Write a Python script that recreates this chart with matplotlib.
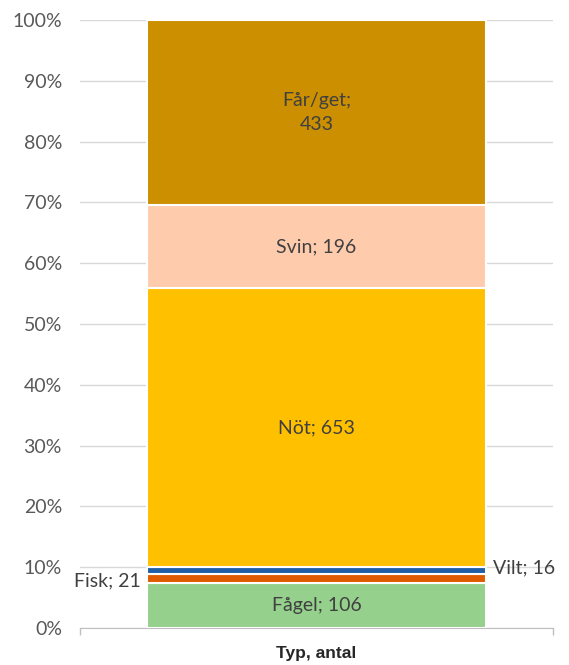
import matplotlib.pyplot as plt
from matplotlib.ticker import PercentFormatter

# antal per typ, stacked bottom to top
types = ["Fågel", "Fisk", "Vilt", "Nöt", "Svin", "Får/get"]
counts = [106, 21, 16, 653, 196, 433]
colors = ["#95D18C", "#E05A00", "#1F5FA8", "#FFC000", "#FFCBAD", "#CC8F00"]

total = sum(counts)
shares = [c / total * 100 for c in counts]

plt.rcParams["font.family"] = ["Lato", "DejaVu Sans"]
fs = 14

fig = plt.figure(figsize=(5.69, 6.65), dpi=100)
ax = fig.add_axes([0.1406, 0.0556, 0.8314, 0.9143])

bottom = 0
for name, cnt, share, col in zip(types, counts, shares, colors):
    ax.bar(0, share, bottom=bottom, width=0.717, color=col,
           edgecolor="white", linewidth=1.5, zorder=3)
    mid = bottom + share / 2
    if name == "Fisk":
        ax.text(-0.372, mid - 0.5, f"{name}; {cnt}", ha="right", va="center",
                fontsize=fs, color="#404040")
    elif name == "Vilt":
        ax.text(0.372, mid + 0.5, f"{name}; {cnt}", ha="left", va="center",
                fontsize=fs, color="#404040")
    elif name == "Får/get":
        ax.text(0, mid, f"{name};\n{cnt}", ha="center", va="center",
                fontsize=fs, color="#404040", linespacing=1.45)
    else:
        ax.text(0, mid, f"{name}; {cnt}", ha="center", va="center",
                fontsize=fs, color="#404040")
    bottom += share

ax.set_xlim(-0.5, 0.5)
ax.set_ylim(0, 100)
ax.set_yticks(range(0, 101, 10))
ax.yaxis.set_major_formatter(PercentFormatter(decimals=0))
ax.grid(axis="y", color="#D9D9D9", linewidth=1, zorder=0)
ax.tick_params(axis="y", length=0, labelsize=fs, labelcolor="#595959", pad=13)

ax.set_xticks([-0.5, 0.5])
ax.set_xticklabels(["", ""])
ax.tick_params(axis="x", length=5, color="#BFBFBF", width=1, pad=0)
ax.set_xlabel("Typ, antal", fontsize=12.5, fontweight="bold", color="#262626",
              family=["Liberation Sans", "DejaVu Sans"], labelpad=8)

for s in ["top", "left", "right"]:
    ax.spines[s].set_visible(False)
ax.spines["bottom"].set_color("#BFBFBF")

fig.savefig("out.png", dpi=100)
